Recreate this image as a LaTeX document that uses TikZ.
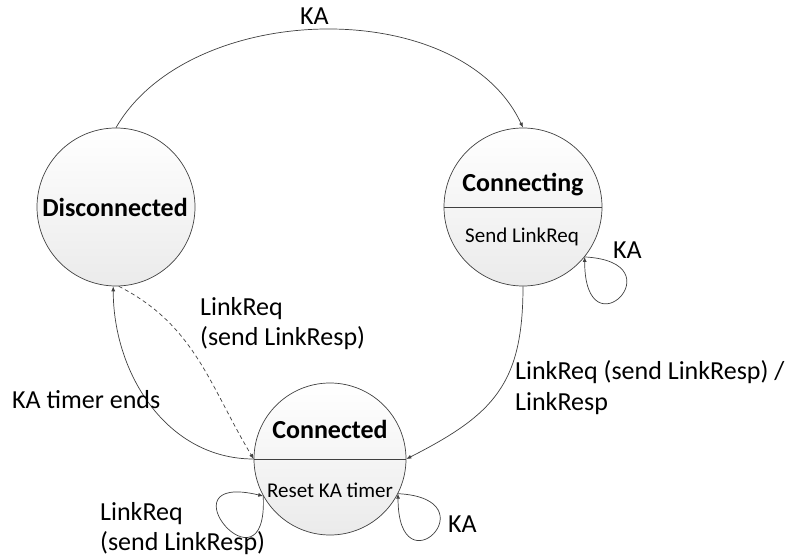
\documentclass[tikz,border=0pt]{standalone}
\usepackage{fontspec}
\setmainfont{Carlito}
\usetikzlibrary{arrows.meta}
\definecolor{linec}{HTML}{404040}
\begin{document}
\begin{tikzpicture}[x=1pt,y=1pt,
  state/.style={circle, draw=linec, line width=0.7pt, top color=white, bottom color=black!8, minimum size=158pt, inner sep=0pt},
  conn/.style={draw=linec, line width=0.7pt, -{Latex[length=5pt,width=4pt]}},
  lbl/.style={font=\fontsize{26}{31}\selectfont, inner sep=0pt, anchor=base west},
  ttl/.style={font=\bfseries\fontsize{26}{31}\selectfont, inner sep=0pt, anchor=base},
  sub/.style={font=\fontsize{21}{25}\selectfont, inner sep=0pt, anchor=base}]
\useasboundingbox (0,0) rectangle (792,-556);
% states
\node[state] (dis) at (116,-207) {};
\node[state] (con) at (523,-207) {};
\node[state, minimum size=152pt] (cd) at (330,-459) {};
\draw[linec, line width=0.7pt] (con.west) -- (con.east);
\draw[linec, line width=0.7pt] (cd.west) -- (cd.east);
\node[ttl] (tdis) at (115,-216) {Disconnected};
\node[ttl] (tcon) at (523,-192) {Connecting};
\node[sub] (scon) at (522,-242) {Send LinkReq};
\node[ttl] (tcd) at (330,-438) {Connected};
\node[sub] (scd) at (330,-497) {Reset KA timer};
% connectors
\draw[conn] (dis.north) to[out=60,in=115,looseness=0.93] (con.north);
\draw[conn] (con.-39) .. controls +(95,-5) and +(0,-100) .. (con.-39);
\draw[conn] (con.south) to[out=-90,in=27,looseness=1.2] (cd.east);
\draw[conn] (cd.west) to[out=180,in=-90] (dis.-92);
\draw[conn, dash pattern=on 4pt off 3pt] (dis.-88) to[out=-27,in=121] (cd.west);
\draw[conn] (cd.209) .. controls +(5,-105) and +(-105,25) .. (cd.209);
\draw[conn] (cd.-27) .. controls +(95,-5) and +(0,-100) .. (cd.-27);
% labels
\node[lbl] (l1) at (300,-25) {KA};
\node[lbl] (l2) at (613,-258) {KA};
\node[lbl] (l3a) at (515,-379) {LinkReq (send LinkResp) /};
\node[lbl] (l3b) at (515,-410) {LinkResp};
\node[lbl] (l4a) at (200,-315) {LinkReq};
\node[lbl] (l4b) at (200,-345) {(send LinkResp)};
\node[lbl] (l5) at (12,-408) {KA timer ends};
\node[lbl] (l6a) at (100,-520) {LinkReq};
\node[lbl] (l6b) at (100,-550) {(send LinkResp)};
\node[lbl] (l7) at (448,-532) {KA};
\end{tikzpicture}
\end{document}
